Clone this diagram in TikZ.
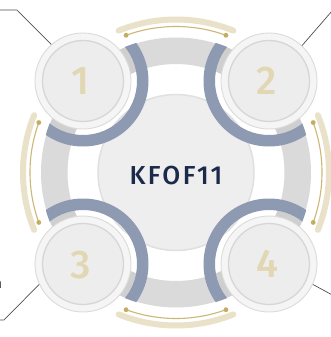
\documentclass[tikz,border=0pt]{standalone}
\usepackage{fontspec}
\setmainfont{Fira Sans}
\newfontfamily\kff{Fira Sans}[UprightFont=* Medium]
\newfontfamily\kft{Fira Sans}[UprightFont=* Medium, LetterSpace=9]
\definecolor{ringgray}{HTML}{DADADA}
\definecolor{patchgray}{HTML}{CFCFCF}
\definecolor{bluegray}{HTML}{8E9AB2}
\definecolor{hubfill}{HTML}{EEEEEE}
\definecolor{hubedge}{HTML}{E0E0E0}
\definecolor{goldpale}{HTML}{E9E2C8}
\definecolor{goldline}{HTML}{CDB676}
\definecolor{golddotc}{HTML}{C6AC62}
\definecolor{digitgold}{HTML}{E2D7B3}
\definecolor{navytext}{HTML}{1B2A4A}
\definecolor{connc}{HTML}{505050}
\tikzset{
  goldthick/.style={draw=goldpale, line width=6pt, line cap=round},
  goldthin/.style={draw=goldline, line width=1.1pt},
  golddot/.style={fill=golddotc},
  smallc/.style={circle, minimum size=96pt, inner sep=0pt, fill=white!96!black, draw=black!14, line width=0.9pt},
  innerc/.style={circle, minimum size=81pt, inner sep=0pt, fill=white!93!black, draw=black!16, line width=1.3pt},
  hubc/.style={circle, minimum size=156pt, inner sep=0pt, fill=hubfill, draw=hubedge, line width=1.5pt},
  digit/.style={text=digitgold, font=\kff\fontsize{40}{40}\selectfont},
  conn/.style={draw=connc, line width=0.7pt},
}
\begin{document}
\begin{tikzpicture}[x=1pt, y=-1pt]
\useasboundingbox (0,0) rectangle (331,337);
\clip (0,0) rectangle (331,337);
\fill[white] (0,0) rectangle (331,337);
\coordinate (C) at (176,172.5);
\coordinate (p1) at (83,81);
\coordinate (p2) at (269,81);
\coordinate (p3) at (83,264);
\coordinate (p4) at (269,264);
% gold arcs
\foreach \a in {90,180,0,270}{
  \draw[goldthick] ([shift={(\a-22:153pt)}]C) arc[start angle=\a-22, end angle=\a+22, radius=153pt];
  \draw[goldthin] ([shift={(\a-20:146pt)}]C) arc[start angle=\a-20, end angle=\a+20, radius=146pt];
  \fill[golddot] ([shift={(\a-20:146pt)}]C) circle[radius=2.4pt];
  \fill[golddot] ([shift={(\a+20:146pt)}]C) circle[radius=2.4pt];
}
% gray ring
\fill[ringgray, even odd rule] (C) circle[radius=135pt] (C) circle[radius=108.5pt];
\begin{scope}[even odd rule]
  \clip (C) circle[radius=135pt] (C) circle[radius=108.5pt];
  \foreach \p in {p1,p2,p3,p4}{ \fill[patchgray] (\p) circle[radius=55pt]; }
\end{scope}
% hub
\node[hubc] (hub) at (C) {};
% blue arcs
\begin{scope}
  \clip (C) circle[radius=135.5pt];
  \foreach \p in {p1,p2,p3,p4}{
    \fill[bluegray, even odd rule] (\p) circle[radius=65.5pt] (\p) circle[radius=54pt];
  }
\end{scope}
% small circles
\node[smallc] (n1) at (p1) {};
\node[smallc] (n2) at (p2) {};
\node[smallc] (n3) at (p3) {};
\node[smallc] (n4) at (p4) {};
\node[innerc] (i1) at (p1) {};
\node[innerc] (i2) at (p2) {};
\node[innerc] (i3) at (p3) {};
\node[innerc] (i4) at (p4) {};
\node[digit] (d1) at (80.5,81) {1};
\node[digit] (d2) at (267,80.5) {2};
\node[digit] (d3) at (80.5,265) {3};
\node[digit] (d4) at (267,264) {4};
\node[text=navytext, font=\kft\fontsize{26}{26}\selectfont] (title) at (176,176) {KFOF11};
% connectors
\coordinate (k1) at (17,10);
\coordinate (e1) at (-3,10);
\coordinate (k2) at (332,11);
\coordinate (e2) at (345,11);
\coordinate (k3) at (4,320);
\coordinate (e3) at (-3,320);
\coordinate (k4) at (336,297);
\draw[conn] (n1.131) -- (k1) -- (e1);
\draw[conn] (n2.47) -- (k2) -- (e2);
\draw[conn] (n3.205) -- (k3) -- (e3);
\draw[conn] (n4.-25) -- (k4);
\node[anchor=base east, inner sep=0pt, text=connc, font=\fontsize{14}{14}\selectfont] (frag) at (2.5,288) {n};
\end{tikzpicture}
\end{document}
